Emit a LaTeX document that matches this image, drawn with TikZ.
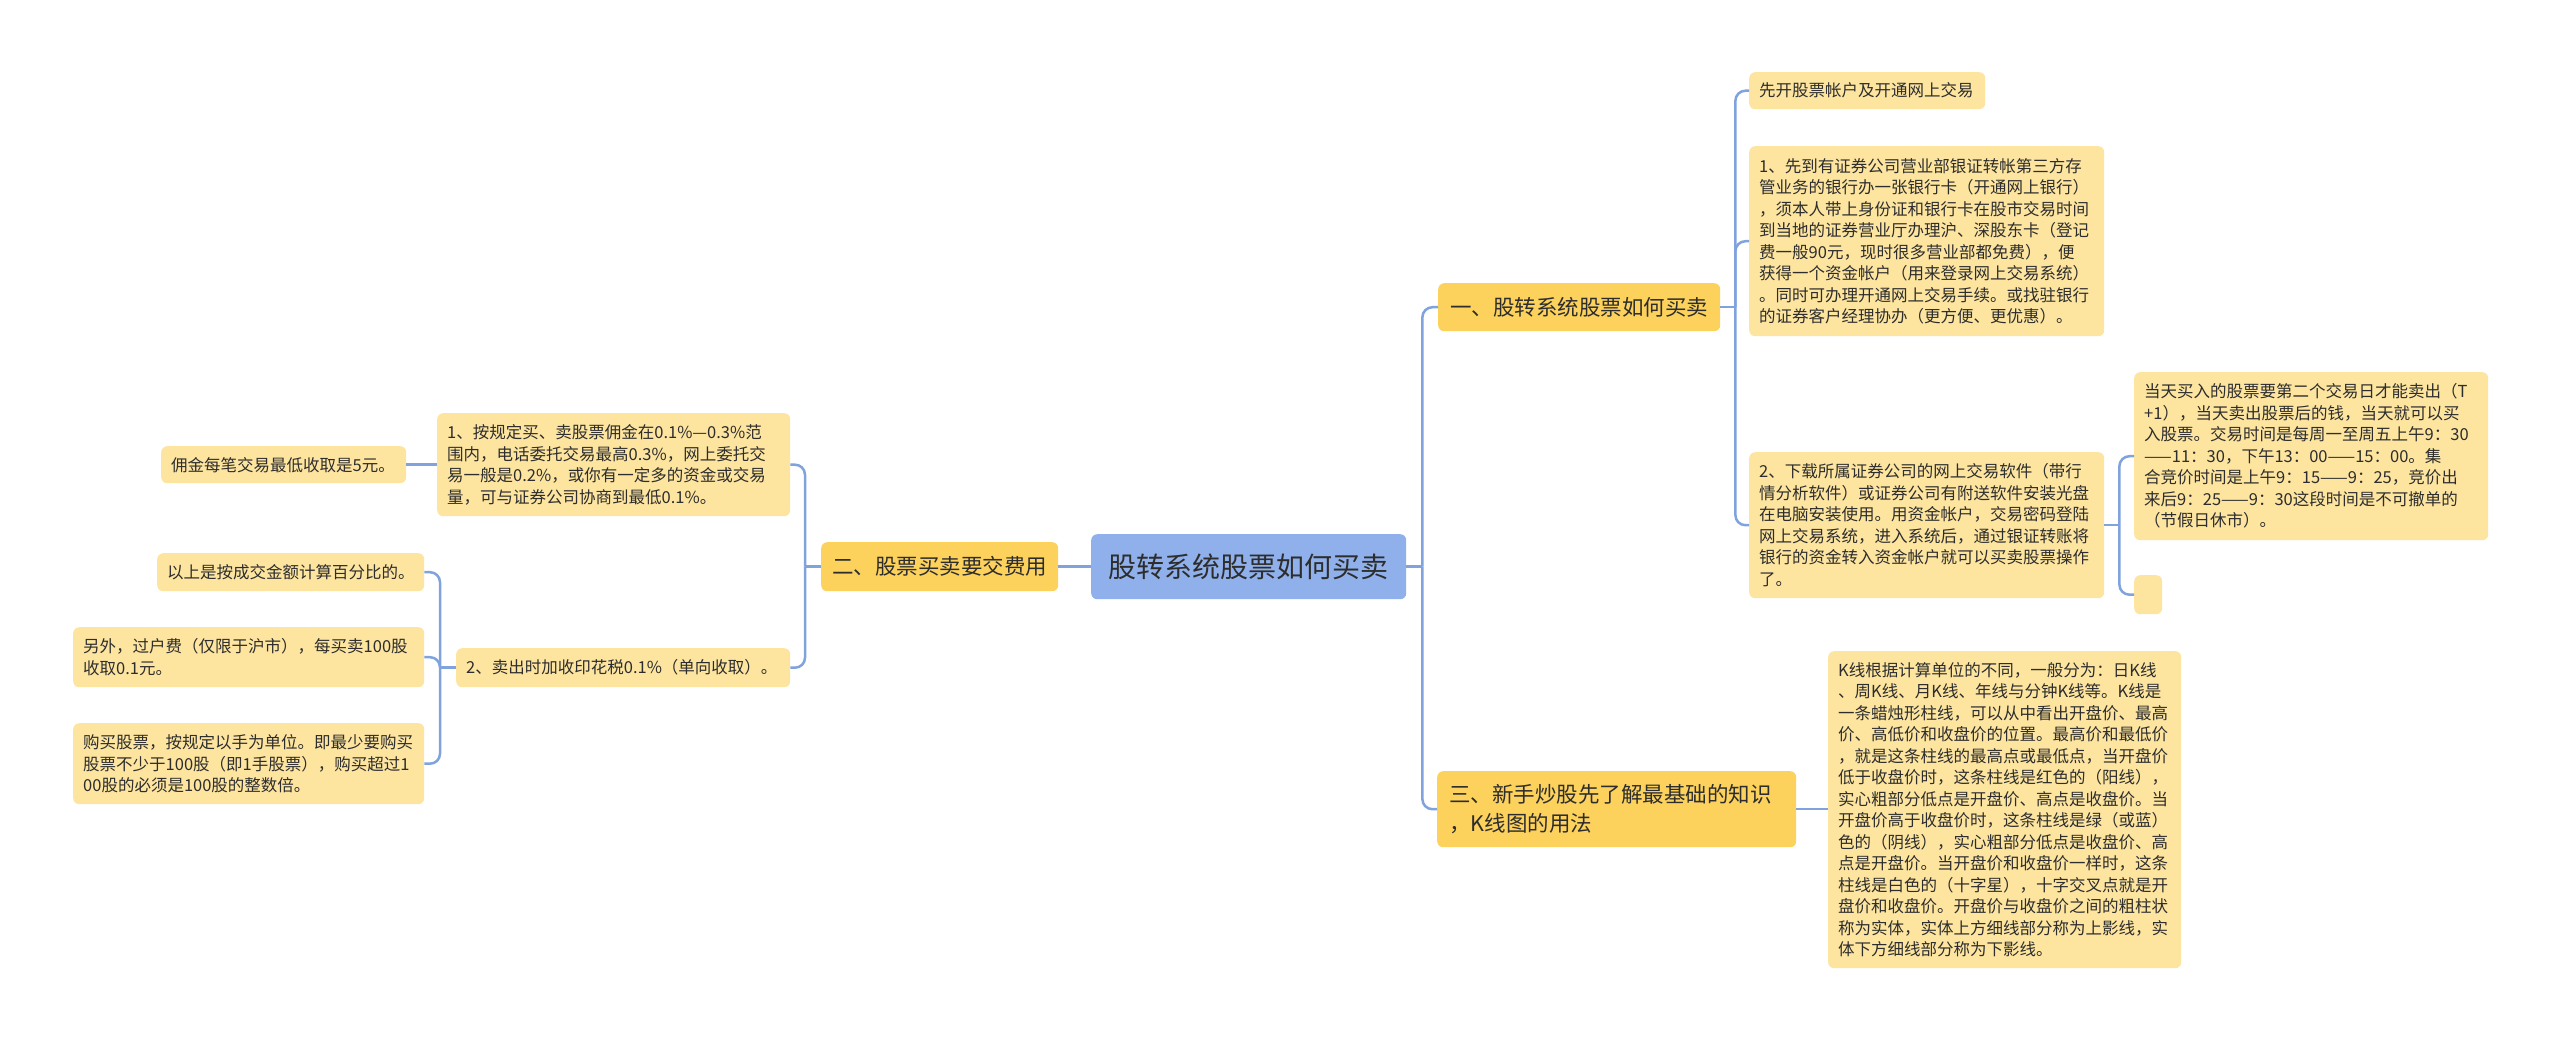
\documentclass[tikz,border=0pt]{standalone}
\usepackage{fontspec}
\setmainfont{Noto Sans CJK SC}
\definecolor{ctrfill}{RGB}{143,176,234}
\definecolor{mainfill}{RGB}{252,210,92}
\definecolor{leaffill}{RGB}{253,229,160}
\definecolor{linecol}{RGB}{128,163,222}
\definecolor{txtcol}{RGB}{45,45,45}
\newcommand\leaffont{\fontsize{16.5}{21.5}\selectfont}
\newcommand\brfont{\fontsize{21.5}{29}\selectfont}
\newcommand\ctrfont{\fontsize{28}{34}\selectfont}
\begin{document}
\begin{tikzpicture}[x=1pt,y=-1pt,
  box/.style={rectangle, rounded corners=6pt, inner xsep=10pt, inner ysep=0pt, align=left, text=txtcol, anchor=north west},
  leaf/.style={box, fill=leaffill, font=\leaffont},
  branch/.style={box, fill=mainfill, font=\brfont, inner xsep=12pt},
  conn/.style={draw=linecol, line width=2.5pt},
  elbow/.style={conn, rounded corners=10pt}]
\fill[white] (0,0) rectangle (2560,1042);
\useasboundingbox (0,0) rectangle (2560,1042);

% centre and main branches
\node[box, fill=ctrfill, font=\ctrfont, inner xsep=0pt, text width=315pt, align=center, minimum height=65pt] (c) at (1091,534) {股转系统股票如何买卖};
\node[branch, text width=258pt, minimum height=48pt] (b1) at (1438,283) {一、股转系统股票如何买卖};
\node[branch, text width=335pt, minimum height=76pt] (b3) at (1437,771) {三、新手炒股先了解最基础的知识\\，K线图的用法};
\node[branch, inner xsep=11pt, text width=215pt, minimum height=49pt] (b2) at (821,542) {二、股票买卖要交费用};

% right leaves
\node[leaf, text width=216pt, minimum height=37pt] (l1) at (1749,72) {先开股票帐户及开通网上交易};
\node[leaf, text width=335pt, minimum height=190pt] (l2) at (1749,146) {1、先到有证券公司营业部银证转帐第三方存\\管业务的银行办一张银行卡（开通网上银行）\\，须本人带上身份证和银行卡在股市交易时间\\到当地的证券营业厅办理沪、深股东卡（登记\\费一般90元，现时很多营业部都免费），便\\获得一个资金帐户（用来登录网上交易系统）\\。同时可办理开通网上交易手续。或找驻银行\\的证券客户经理协办（更方便、更优惠）。};
\node[leaf, text width=335pt, minimum height=146pt] (l3) at (1749,452) {2、下载所属证券公司的网上交易软件（带行\\情分析软件）或证券公司有附送软件安装光盘\\在电脑安装使用。用资金帐户，交易密码登陆\\网上交易系统，进入系统后，通过银证转账将\\银行的资金转入资金帐户就可以买卖股票操作\\了。};
\node[leaf, text width=334pt, minimum height=168pt] (l4) at (2134,372) {当天买入的股票要第二个交易日才能卖出（T\\+1），当天卖出股票后的钱，当天就可以买\\入股票。交易时间是每周一至周五上午9：30\\——11：30，下午13：00——15：00。集\\合竞价时间是上午9：15——9：25，竞价出\\来后9：25——9：30这段时间是不可撤单的\\（节假日休市）。};
\node[leaf, text width=8pt, minimum height=39pt] (l5) at (2134,575) {};
\node[leaf, text width=333pt, minimum height=317pt] (l6) at (1828,651) {K线根据计算单位的不同，一般分为：日K线\\、周K线、月K线、年线与分钟K线等。K线是\\一条蜡烛形柱线，可以从中看出开盘价、最高\\价、高低价和收盘价的位置。最高价和最低价\\，就是这条柱线的最高点或最低点，当开盘价\\低于收盘价时，这条柱线是红色的（阳线），\\实心粗部分低点是开盘价、高点是收盘价。当\\开盘价高于收盘价时，这条柱线是绿（或蓝）\\色的（阴线），实心粗部分低点是收盘价、高\\点是开盘价。当开盘价和收盘价一样时，这条\\柱线是白色的（十字星），十字交叉点就是开\\盘价和收盘价。开盘价与收盘价之间的粗柱状\\称为实体，实体上方细线部分称为上影线，实\\体下方细线部分称为下影线。};

% left leaves
\node[leaf, text width=333pt, minimum height=103pt] (m1) at (437,413) {1、按规定买、卖股票佣金在0.1\%—0.3\%范\\围内，电话委托交易最高0.3\%，网上委托交\\易一般是0.2\%，或你有一定多的资金或交易\\量，可与证券公司协商到最低0.1\%。};
\node[leaf, text width=314pt, minimum height=39pt] (m2) at (456,648) {2、卖出时加收印花税0.1\%（单向收取）。};
\node[leaf, text width=225pt, minimum height=37pt] (m3) at (161,446) {佣金每笔交易最低收取是5元。};
\node[leaf, text width=247pt, minimum height=38pt] (m4) at (157,553) {以上是按成交金额计算百分比的。};
\node[leaf, text width=331pt, minimum height=60pt] (m5) at (73,627) {另外，过户费（仅限于沪市），每买卖100股\\收取0.1元。};
\node[leaf, text width=331pt, minimum height=81pt] (m6) at (73,723) {购买股票，按规定以手为单位。即最少要购买\\股票不少于100股（即1手股票），购买超过1\\00股的必须是100股的整数倍。};

% connectors
\draw[conn] (c.east) -- ++(16,0) coordinate (jc);
\draw[elbow] (jc) |- (b1.west);
\draw[elbow] (jc) |- (b3.west);
\draw[conn] (c.west) -- (b2.east);

\draw[conn] (b1.east) -- ++(15,0) coordinate (j1);
\draw[elbow] (j1) |- (l1.west);
\draw[elbow] (j1) |- (l2.west);
\draw[elbow] (j1) |- (l3.west);

\draw[conn] (l3.east) -- ++(15,0) coordinate (j3);
\draw[elbow] (j3) |- (l4.west);
\draw[elbow] (j3) |- (l5.west);

\draw[conn] (b3.east) -- (b3.east -| l6.west);

\draw[conn] (b2.west) -- ++(-16,0) coordinate (j2);
\draw[elbow] (j2) |- (m1.east);
\draw[elbow] (j2) |- (m2.east);

\draw[conn] (m1.west) -- (m1.west -| m3.east);

\draw[conn] (m2.west) -- ++(-16,0) coordinate (jm);
\draw[elbow] (jm) |- (m4.east);
\draw[elbow] (jm) |- (m5.east);
\draw[elbow] (jm) |- (m6.east);
\end{tikzpicture}
\end{document}
